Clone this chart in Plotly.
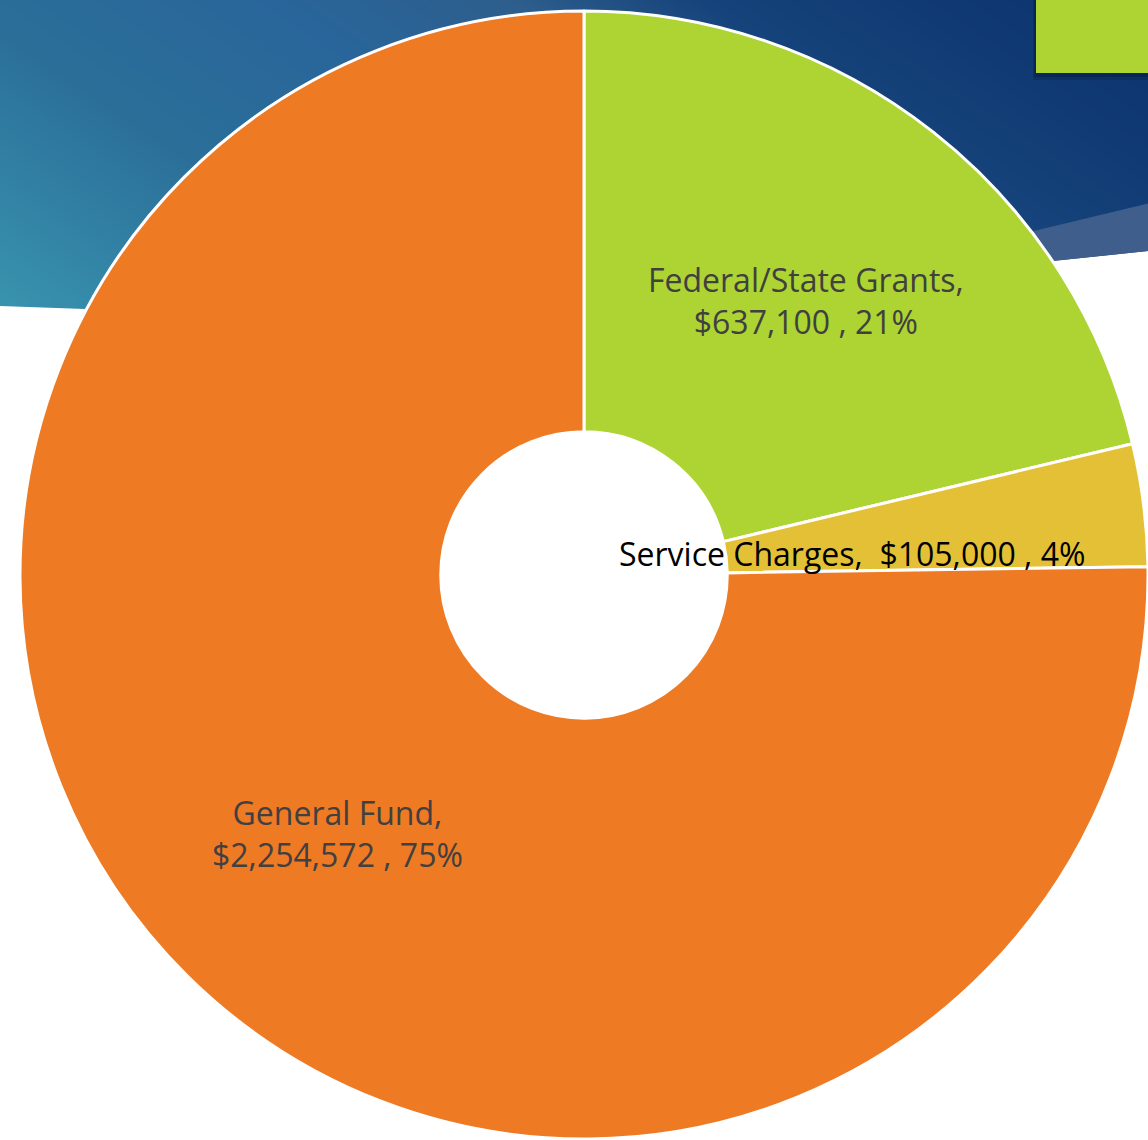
import numpy as np
import plotly.graph_objects as go

# ---- data ----
categories = ["Federal/State Grants", "Service Charges", "General Fund"]
amounts = [637100, 105000, 2254572]
amount_labels = ["$637,100", "$105,000", "$2,254,572"]
pct_labels = ["21%", "4%", "75%"]
slice_colors = ["#ADD432", "#E4C036", "#EE7A24"]

W, H = 1148, 1140

fig = go.Figure()

# ---- decorative slide background (gradient band at top) ----
gx = np.linspace(0, W, 120)
gy = np.linspace(0, 330, 45)
GX, GY = np.meshgrid(gx, gy)
t = 0.72 * (GX / W) + 0.28 * (1 - np.clip(GY, 0, 300) / 300)
fig.add_trace(go.Heatmap(
    x=gx, y=gy, z=t, zmin=0, zmax=1, zsmooth="best", showscale=False,
    hoverinfo="skip",
    colorscale=[[0, "#3892AE"], [0.25, "#2B6F99"], [0.45, "#29659A"],
                [0.6, "#2D5E8C"], [0.72, "#16437B"], [0.85, "#103A73"],
                [1, "#0C3470"]],
))
# white area below the curved edge
fig.add_trace(go.Scatter(
    x=[0, 85, 700, 1062, W + 10, W + 10, -10, -10],
    y=[306, 309, 290, 260, 250, 400, 400, 306],
    fill="toself", fillcolor="white", line=dict(width=0), mode="lines",
    hoverinfo="skip", showlegend=False))
# lighter band at right
fig.add_trace(go.Scatter(
    x=[880, W + 10, W + 10, 1062, 880],
    y=[268, 201, 250, 260, 282],
    fill="toself", fillcolor="#3F5E8C", line=dict(width=0), mode="lines",
    hoverinfo="skip", showlegend=False))

# ---- donut ----
fig.add_trace(go.Pie(
    labels=categories, values=amounts, sort=False, direction="clockwise",
    rotation=0, hole=0.254, textinfo="none", hoverinfo="label+value+percent",
    marker=dict(colors=slice_colors, line=dict(color="white", width=3)),
    domain=dict(x=[20 / W, 1], y=[0, 1 - 10 / H]),
    showlegend=False,
))

# ---- labels ----
label_pos = [(806, 300), (852, 553), (337, 833)]
label_colors = ["#404040", "#000000", "#404040"]
for i, cat in enumerate(categories):
    if i == 1:
        txt = f"{cat},  {amount_labels[i]} , {pct_labels[i]}"
    else:
        txt = f"{cat},<br>{amount_labels[i]} , {pct_labels[i]}"
    fig.add_annotation(x=label_pos[i][0], y=label_pos[i][1], xref="x", yref="y",
                       text=txt, showarrow=False, align="center",
                       font=dict(family="Open Sans", size=32, color=label_colors[i]))

# green box (top right) with soft shadow
fig.add_shape(type="rect", x0=1033, x1=W + 10, y0=-10, y1=80, xref="x", yref="y",
              fillcolor="rgba(0,10,40,0.18)", line=dict(width=0), layer="above")
fig.add_shape(type="rect", x0=1034, x1=W + 10, y0=-10, y1=77, xref="x", yref="y",
              fillcolor="rgba(0,10,40,0.25)", line=dict(width=0), layer="above")
fig.add_shape(type="rect", x0=1036, x1=W + 10, y0=-10, y1=73, xref="x", yref="y",
              fillcolor="#ADD432", line=dict(width=0), layer="above")

fig.update_layout(
    width=W, height=H, margin=dict(l=0, r=0, t=0, b=0),
    paper_bgcolor="white", plot_bgcolor="white",
    xaxis=dict(range=[0, W], visible=False, fixedrange=True, domain=[0, 1]),
    yaxis=dict(range=[H, 0], visible=False, fixedrange=True, domain=[0, 1]),
    showlegend=False,
)

fig.write_html("out.html", config={"displayModeBar": False},
               post_script="document.body.style.margin='0';document.body.style.overflow='hidden';")
